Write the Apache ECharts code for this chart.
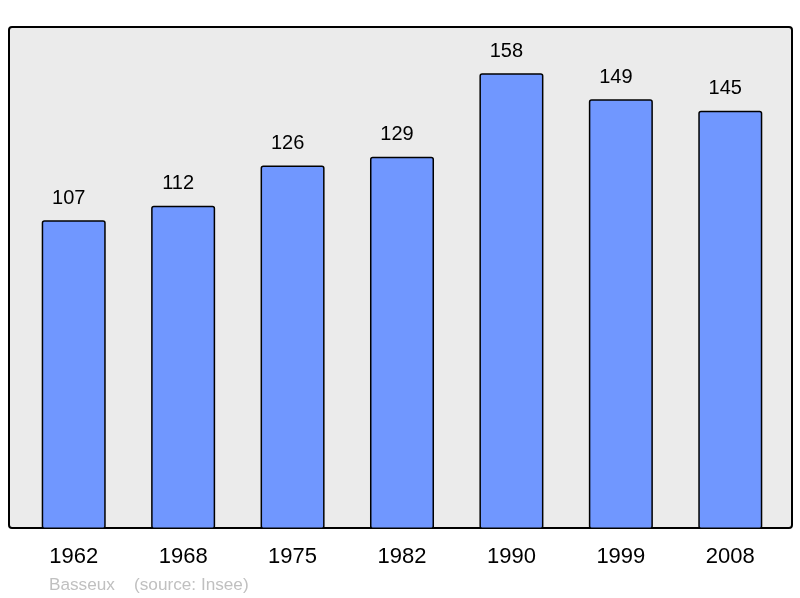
<!DOCTYPE html>
<html><head><meta charset="utf-8">
<script src="https://cdn.jsdelivr.net/npm/echarts@6/dist/echarts.min.js"></script>
<style>html,body{margin:0;padding:0;background:#fff}#c{width:800px;height:598px}</style>
</head><body><div id="c"></div>
<script>
const years = ['1962','1968','1975','1982','1990','1999','2008'];
const population = [107,112,126,129,158,149,145];
const footerText = 'Basseux    (source: Insee)';

const chart = echarts.init(document.getElementById('c'), null, {renderer:'canvas'});
chart.setOption({
  animation:false,
  backgroundColor:'#ffffff',
  graphic:[
    {type:'rect', z:-10, shape:{x:9,y:27,width:783,height:501,r:3},
     style:{fill:'#ebebeb', stroke:'#000', lineWidth:2}},
    {type:'text', left:49, top:577, style:{text:footerText, fill:'#c0c0c0', font:'17.2px "Liberation Sans", Arial, sans-serif'}}
  ],
  grid:{left:19, right:15, top:27, bottom:69},
  xAxis:{type:'category', data:years, axisLine:{show:false}, axisTick:{show:false},
    axisLabel:{color:'#000', fontSize:22, fontFamily:'"Liberation Sans", Arial, sans-serif', margin:17}},
  yAxis:{type:'value', min:0, max:174, show:false, splitLine:{show:false}},
  series:[{type:'bar', data:population, barWidth:'58.5%',
    itemStyle:{color:'#7097ff', borderColor:'#000', borderWidth:1.5, borderRadius:2},
    label:{show:true, position:'top', distance:12, offset:[-5,0], color:'#000', fontSize:20,
      fontFamily:'"Liberation Sans", Arial, sans-serif'}}]
});
</script></body></html>
